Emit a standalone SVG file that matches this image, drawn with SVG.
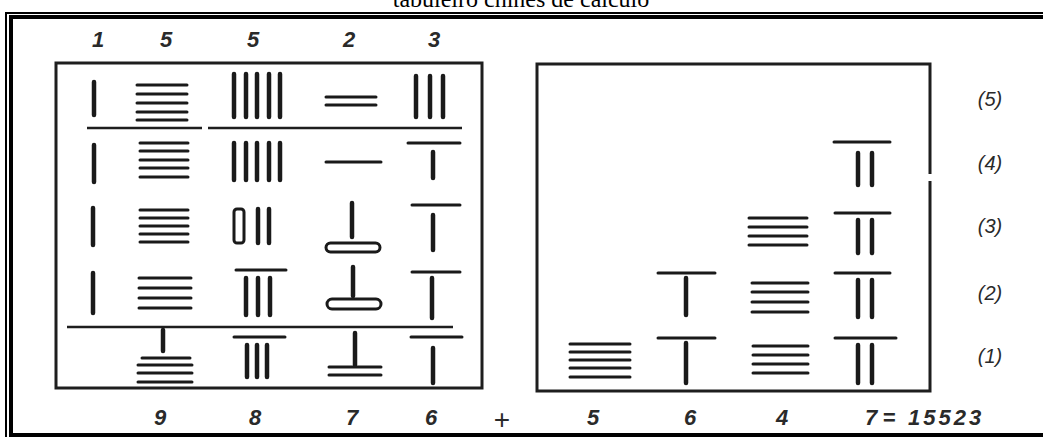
<svg xmlns="http://www.w3.org/2000/svg" width="1043" height="437" viewBox="0 0 1043 437">
<style>
.frame-thin{stroke:#000;stroke-width:2;fill:none}
.frame-thick{stroke:#000;stroke-width:4;fill:none}
.box{stroke:#1e1e1e;stroke-width:3;fill:none}
.rule{stroke:#1e1e1e;stroke-width:2.5}
.v{stroke:#1a1a1a;stroke-width:4.5;stroke-linecap:round}
.h{stroke:#1a1a1a;stroke-width:3;stroke-linecap:round}
.cap{stroke:#1a1a1a;stroke-width:3;fill:none}
.title{font-family:"Liberation Serif",serif;font-size:24px;fill:#000}
.dig{font-family:"Liberation Sans",Arial,sans-serif;font-size:22px;font-style:italic;font-weight:bold;fill:#2a2a2a;text-anchor:middle}
.lab{font-family:"Liberation Sans",Arial,sans-serif;font-size:20px;font-style:italic;fill:#2a2a2a;text-anchor:middle}
</style>
<rect width="1043" height="437" fill="#fff"/>
<text class="title" x="521" y="7" text-anchor="middle">tabuleiro chines de calculo</text>
<g id="frame">
<path class="frame-thin" d="M6,437 V13 H1043"/>
<path class="frame-thick" d="M1043,17 H11 V435 H1043"/>
</g>
<g id="left-board">
<rect class="box" x="56" y="63" width="426" height="325"/>
<line class="rule" x1="87" y1="128" x2="202" y2="128"/>
<line class="rule" x1="208" y1="128" x2="462" y2="128"/>
<line class="rule" x1="67" y1="327" x2="453" y2="327"/>
<!-- row 1 -->
<line class="v" x1="94" y1="82" x2="94" y2="115"/>
<line class="h" x1="137" y1="85" x2="187" y2="85"/>
<line class="h" x1="137" y1="94" x2="187" y2="94"/>
<line class="h" x1="137" y1="103" x2="187" y2="103"/>
<line class="h" x1="137" y1="112" x2="187" y2="112"/>
<line class="h" x1="137" y1="120" x2="187" y2="120"/>
<line class="v" x1="234" y1="74" x2="234" y2="117"/>
<line class="v" x1="246" y1="74" x2="246" y2="117"/>
<line class="v" x1="257" y1="74" x2="257" y2="117"/>
<line class="v" x1="269" y1="74" x2="269" y2="117"/>
<line class="v" x1="280" y1="74" x2="280" y2="117"/>
<line class="h" x1="326" y1="97" x2="376" y2="97"/>
<line class="h" x1="326" y1="105" x2="376" y2="105"/>
<line class="v" x1="416" y1="76" x2="416" y2="117"/>
<line class="v" x1="430" y1="76" x2="430" y2="117"/>
<line class="v" x1="443" y1="76" x2="443" y2="117"/>
<!-- row 2 -->
<line class="v" x1="94" y1="145" x2="94" y2="182"/>
<line class="h" x1="140" y1="143" x2="188" y2="143"/>
<line class="h" x1="140" y1="151" x2="188" y2="151"/>
<line class="h" x1="140" y1="160" x2="188" y2="160"/>
<line class="h" x1="140" y1="168" x2="188" y2="168"/>
<line class="h" x1="140" y1="177" x2="188" y2="177"/>
<line class="v" x1="234" y1="143" x2="234" y2="180"/>
<line class="v" x1="246" y1="143" x2="246" y2="180"/>
<line class="v" x1="257" y1="143" x2="257" y2="180"/>
<line class="v" x1="269" y1="143" x2="269" y2="180"/>
<line class="v" x1="280" y1="143" x2="280" y2="180"/>
<line class="h" x1="326" y1="162" x2="381" y2="162"/>
<line class="h" x1="408" y1="143" x2="460" y2="143"/>
<line class="v" x1="433" y1="152" x2="433" y2="178"/>
<!-- row 3 -->
<line class="v" x1="93" y1="208" x2="93" y2="245"/>
<line class="h" x1="140" y1="210" x2="188" y2="210"/>
<line class="h" x1="140" y1="218" x2="188" y2="218"/>
<line class="h" x1="140" y1="226" x2="188" y2="226"/>
<line class="h" x1="140" y1="234" x2="188" y2="234"/>
<line class="h" x1="140" y1="242" x2="188" y2="242"/>
<rect class="cap" x="234" y="209" width="10" height="34" rx="3"/>
<line class="v" x1="258" y1="209" x2="258" y2="243"/>
<line class="v" x1="269" y1="209" x2="269" y2="243"/>
<line class="v" x1="352" y1="203" x2="352" y2="237"/>
<rect class="cap" x="326" y="243" width="54" height="9" rx="4.5"/>
<line class="h" x1="412" y1="205" x2="460" y2="205"/>
<line class="v" x1="433" y1="215" x2="433" y2="250"/>
<!-- row 4 -->
<line class="v" x1="93" y1="273" x2="93" y2="313"/>
<line class="h" x1="139" y1="278" x2="191" y2="278"/>
<line class="h" x1="139" y1="288" x2="191" y2="288"/>
<line class="h" x1="139" y1="298" x2="191" y2="298"/>
<line class="h" x1="139" y1="308" x2="191" y2="308"/>
<line class="h" x1="236" y1="270" x2="286" y2="270"/>
<line class="v" x1="246" y1="278" x2="246" y2="315"/>
<line class="v" x1="258" y1="278" x2="258" y2="315"/>
<line class="v" x1="270" y1="278" x2="270" y2="315"/>
<line class="v" x1="353" y1="267" x2="353" y2="296"/>
<rect class="cap" x="327" y="299" width="54" height="10" rx="5"/>
<line class="h" x1="412" y1="272" x2="460" y2="272"/>
<line class="v" x1="432" y1="278" x2="432" y2="318"/>
<!-- row 5 -->
<line class="v" x1="163" y1="330" x2="163" y2="351"/>
<line class="h" x1="142" y1="358" x2="190" y2="358"/>
<line class="h" x1="138" y1="365" x2="192" y2="365"/>
<line class="h" x1="138" y1="373" x2="192" y2="373"/>
<line class="h" x1="138" y1="382" x2="192" y2="382"/>
<line class="h" x1="234" y1="337" x2="285" y2="337"/>
<line class="v" x1="247" y1="345" x2="247" y2="377"/>
<line class="v" x1="257" y1="345" x2="257" y2="377"/>
<line class="v" x1="267" y1="345" x2="267" y2="377"/>
<line class="v" x1="355" y1="333" x2="355" y2="365"/>
<line class="h" x1="329" y1="367" x2="381" y2="367"/>
<line class="h" x1="329" y1="375" x2="381" y2="375"/>
<line class="h" x1="411" y1="337" x2="462" y2="337"/>
<line class="v" x1="433" y1="348" x2="433" y2="383"/>
</g>
<g id="right-board">
<path class="box" d="M930,174 V64 H537 V391 H930 V181"/>
<!-- (4) -->
<line class="h" x1="834" y1="142" x2="890" y2="142"/>
<line class="v" x1="858" y1="153" x2="858" y2="185"/>
<line class="v" x1="872" y1="153" x2="872" y2="185"/>
<!-- (3) -->
<line class="h" x1="749" y1="218" x2="807" y2="218"/>
<line class="h" x1="749" y1="227" x2="807" y2="227"/>
<line class="h" x1="749" y1="236" x2="807" y2="236"/>
<line class="h" x1="749" y1="245" x2="807" y2="245"/>
<line class="h" x1="835" y1="213" x2="890" y2="213"/>
<line class="v" x1="858" y1="220" x2="858" y2="253"/>
<line class="v" x1="872" y1="220" x2="872" y2="253"/>
<!-- (2) -->
<line class="h" x1="658" y1="273" x2="715" y2="273"/>
<line class="v" x1="686" y1="278" x2="686" y2="315"/>
<line class="h" x1="752" y1="283" x2="808" y2="283"/>
<line class="h" x1="752" y1="292" x2="808" y2="292"/>
<line class="h" x1="752" y1="302" x2="808" y2="302"/>
<line class="h" x1="752" y1="312" x2="808" y2="312"/>
<line class="h" x1="835" y1="273" x2="890" y2="273"/>
<line class="v" x1="858" y1="280" x2="858" y2="317"/>
<line class="v" x1="872" y1="280" x2="872" y2="317"/>
<!-- (1) -->
<line class="h" x1="570" y1="344" x2="630" y2="344"/>
<line class="h" x1="570" y1="352" x2="630" y2="352"/>
<line class="h" x1="570" y1="360" x2="630" y2="360"/>
<line class="h" x1="570" y1="368" x2="630" y2="368"/>
<line class="h" x1="570" y1="377" x2="630" y2="377"/>
<line class="h" x1="658" y1="338" x2="715" y2="338"/>
<line class="v" x1="686" y1="343" x2="686" y2="383"/>
<line class="h" x1="753" y1="346" x2="808" y2="346"/>
<line class="h" x1="753" y1="355" x2="808" y2="355"/>
<line class="h" x1="753" y1="364" x2="808" y2="364"/>
<line class="h" x1="753" y1="373" x2="808" y2="373"/>
<line class="h" x1="835" y1="338" x2="896" y2="338"/>
<line class="v" x1="858" y1="345" x2="858" y2="383"/>
<line class="v" x1="872" y1="345" x2="872" y2="383"/>
</g>
<g id="row-labels">
<text class="lab" x="990" y="106">(5)</text>
<text class="lab" x="990" y="170">(4)</text>
<text class="lab" x="990" y="233">(3)</text>
<text class="lab" x="990" y="300">(2)</text>
<text class="lab" x="990" y="363">(1)</text>
</g>
<g id="top-digits">
<text class="dig" x="98" y="47">1</text>
<text class="dig" x="166" y="47">5</text>
<text class="dig" x="253" y="47">5</text>
<text class="dig" x="349" y="47">2</text>
<text class="dig" x="434" y="47">3</text>
</g>
<g id="bottom-digits">
<text class="dig" x="160" y="425">9</text>
<text class="dig" x="255" y="425">8</text>
<text class="dig" x="352" y="425">7</text>
<text class="dig" x="431" y="425">6</text>
<text x="502" y="429" font-family="Liberation Sans, Arial, sans-serif" font-size="28" fill="#2a2a2a" text-anchor="middle">+</text>
<text class="dig" x="593" y="425">5</text>
<text class="dig" x="690" y="425">6</text>
<text class="dig" x="782" y="425">4</text>
<text class="dig" x="871" y="425">7</text>
<text class="dig" x="889" y="425">=</text>
<text class="dig" x="908" y="425" style="text-anchor:start;letter-spacing:3px">15523</text>
</g>
</svg>
